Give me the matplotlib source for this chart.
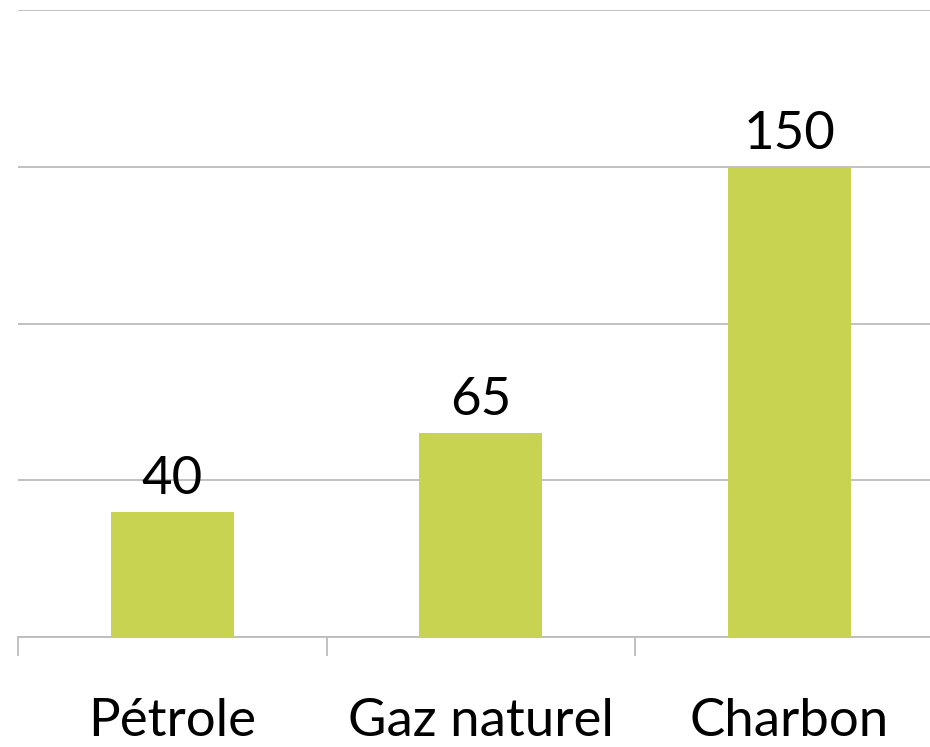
import matplotlib
matplotlib.use("Agg")
import matplotlib.pyplot as plt

categories = ["Pétrole", "Gaz naturel", "Charbon"]
values = [40, 65, 150]

W, H = 930, 747
fig = plt.figure(figsize=(W/100, H/100), dpi=100)
left, right = 18/W, 943.5/W
bottom, top = (H-637)/H, (H-10)/H
ax = fig.add_axes([left, bottom, right-left, top-bottom])
ax.set_xlim(-0.5, 2.5)
ax.set_ylim(0, 200)

grid_col = "#bcbcbc"
ax.set_yticks([0, 50, 100, 150, 200])
ax.yaxis.grid(True, color=grid_col, linewidth=1.3)
ax.set_axisbelow(True)
ax.tick_params(axis="y", left=False, labelleft=False)
for s in ["left", "right", "top"]:
    ax.spines[s].set_visible(False)
ax.spines["bottom"].set_color(grid_col)
ax.spines["bottom"].set_linewidth(1.3)

x = list(range(len(categories)))
bars = ax.bar(x, values, width=0.40, color="#c8d451", zorder=3)

ax.set_xticks([-0.5, 0.5, 1.5, 2.5])
ax.set_xticklabels([])
ax.tick_params(axis="x", length=14, width=1.3, color=grid_col, direction="out")

font = "Lato"
for xi, v in zip(x, values):
    ax.annotate(str(v), (xi, v), xytext=(0, 18), textcoords="offset pixels",
                ha="center", va="baseline", fontsize=38, family=font)
for xi, c in zip(x, categories):
    ax.annotate(c, (xi, 0), xytext=(0, -108), textcoords="offset pixels",
                ha="center", va="bottom", fontsize=38, family=font,
                annotation_clip=False)

fig.savefig("out.png", dpi=100)
